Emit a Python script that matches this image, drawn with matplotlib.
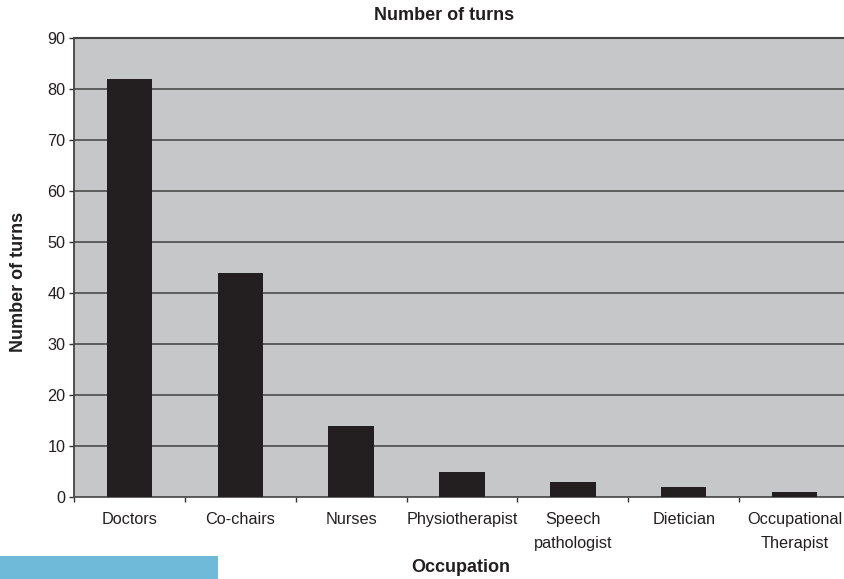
import matplotlib
matplotlib.use("Agg")
import matplotlib.pyplot as plt
from matplotlib.patches import Rectangle
import numpy as np

categories = ["Doctors", "Co-chairs", "Nurses", "Physiotherapist",
              "Speech\npathologist", "Dietician", "Occupational\nTherapist"]
turns = [82, 44, 14, 5, 3, 2, 1]
yticks = [0, 10, 20, 30, 40, 50, 60, 70, 80, 90]

plt.rcParams['font.family'] = ['Liberation Sans', 'DejaVu Sans']

W, H = 845, 579
fig = plt.figure(figsize=(W/100, H/100), dpi=100)
left, right, top, bottom = 74, 850, 38, 497
ax = fig.add_axes([left/W, 1 - bottom/H, (right-left)/W, (bottom-top)/H])
ax.set_facecolor('#c6c7c9')

x = np.arange(len(categories)) + 0.5
ax.bar(x, turns, width=0.41, color='#231f20', zorder=3)
ax.set_xlim(0, len(categories))
ax.set_ylim(0, 90)
ax.set_yticks(yticks)
ax.yaxis.grid(True, color='#555555', linewidth=1.3, zorder=1)
ax.set_axisbelow(True)

ax.set_xticks(x)
ax.set_xticklabels(categories, fontsize=11.7, linespacing=1.7, color='#231f20')
ax.set_xticks(np.arange(len(categories)+1), minor=True)
ax.tick_params(axis='x', which='major', length=0, pad=11)
ax.tick_params(axis='x', which='minor', length=3.5, width=1, color='#333333', direction='out')
ax.tick_params(axis='y', length=3.5, width=1, color='#333333', labelsize=11.7,
               labelcolor='#231f20', pad=2.5)

ax.spines['right'].set_visible(False)
ax.spines['top'].set_color('#444444')
ax.spines['top'].set_linewidth(1.5)
ax.spines['left'].set_color('#444444')
ax.spines['left'].set_linewidth(1.3)
ax.spines['bottom'].set_color('#555555')
ax.spines['bottom'].set_linewidth(1.3)

fig.text(444/W, 1 - 15/H, "Number of turns", ha='center', va='center',
         fontsize=13, fontweight='bold', color='#231f20')
fig.text(18.5/W, 1 - 282/H, "Number of turns", ha='center', va='center',
         rotation=90, fontsize=13, fontweight='bold', color='#231f20')
fig.text(461/W, 1 - 568/H, "Occupation", ha='center', va='center',
         fontsize=13, fontweight='bold', color='#231f20')

fig.patches.append(Rectangle((0, 0), 218/W, (579-556)/H, transform=fig.transFigure,
                             facecolor='#6fb9d9', edgecolor='none'))

fig.savefig("out.png", dpi=100)
